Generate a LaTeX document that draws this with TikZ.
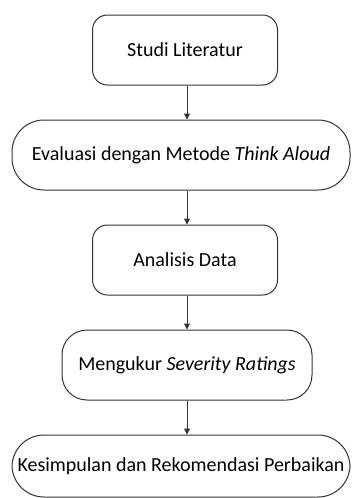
\documentclass[tikz,border=0pt]{standalone}
\usepackage{fontspec}
\setmainfont{Carlito}
\usetikzlibrary{arrows.meta}

\tikzset{
  stepbox/.style={draw=black!80, line width=1pt, align=center,
    inner sep=0pt, font=\fontsize{20}{22}\selectfont},
  flow/.style={draw=black!80, line width=1pt,
    -{Triangle[length=6pt, width=6pt]}},
}

\begin{document}
\begin{tikzpicture}[x=1pt, y=1pt]

\useasboundingbox (0,0) rectangle (351,-498);

% ========================================================== the five steps
\node[stepbox, rounded corners=15pt, minimum width=185pt, minimum height=70pt]
  (studi) at (185,-50) {Studi Literatur};
\node[stepbox, rounded corners=32pt, minimum width=338pt, minimum height=70pt]
  (evaluasi) at (181,-155) {Evaluasi dengan Metode \emph{Think Aloud}};
\node[stepbox, rounded corners=15pt, minimum width=185pt, minimum height=70pt]
  (analisis) at (185,-260) {Analisis Data};
\node[stepbox, rounded corners=25pt, minimum width=250pt, minimum height=70pt]
  (ukur) at (187,-365) {Mengukur \emph{Severity Ratings}};
\node[stepbox, rounded corners=32pt, minimum width=338pt, minimum height=62pt]
  (simpulan) at (181,-466) {Kesimpulan dan Rekomendasi Perbaikan};

% ============================================================ the arrows
\draw[flow] (studi.south -| 187,0) -- (evaluasi.north -| 187,0);
\draw[flow] (evaluasi.south -| 187,0) -- (analisis.north -| 187,0);
\draw[flow] (analisis.south -| 187,0) -- (ukur.north -| 187,0);
\draw[flow] (ukur.south -| 187,0) -- (simpulan.north -| 187,0);

\end{tikzpicture}
\end{document}
